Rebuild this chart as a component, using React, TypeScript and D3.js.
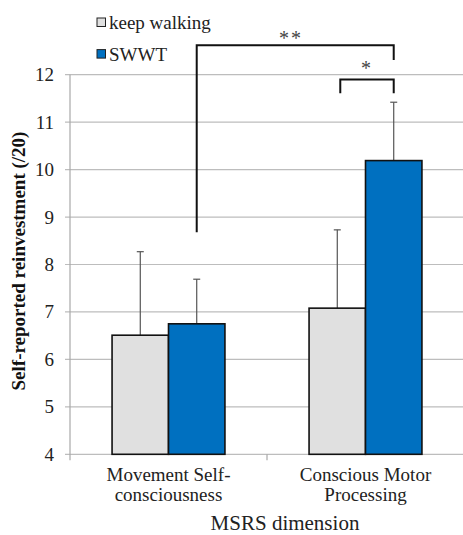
import React from "react";
import * as d3 from "d3";

const categories = ["Movement Self-consciousness", "Conscious Motor Processing"];
const categoryLines = [
  ["Movement Self-", "consciousness"],
  ["Conscious Motor", "Processing"],
];
const seriesNames = ["keep walking", "SWWT"];
const keepWalking = [6.51, 7.08];
const keepWalkingErr = [1.76, 1.65];
const swwt = [6.75, 10.19];
const swwtErr = [0.94, 1.23];
const yTicks = [4, 5, 6, 7, 8, 9, 10, 11, 12];
const colors = ["#e0e0e0", "#0070c0"];

const W = 463;
const H = 535;
const SERIF = "Liberation Serif";

export default function App() {
  const x = d3.scaleBand<string>().domain(categories).range([70, 464]).padding(0);
  const bw = x.bandwidth();
  const inner = d3
    .scaleBand<string>()
    .domain(seriesNames)
    .range([bw * 0.2135, bw * 0.7865])
    .padding(0);
  const y = d3.scaleLinear().domain([4, 12]).range([454.3, 74.7]);

  const series = [
    { name: seriesNames[0], values: keepWalking, errs: keepWalkingErr, color: colors[0] },
    { name: seriesNames[1], values: swwt, errs: swwtErr, color: colors[1] },
  ];

  const barCenter = (ci: number, si: number) =>
    (x(categories[ci]) ?? 0) + (inner(seriesNames[si]) ?? 0) + inner.bandwidth() / 2;

  const b2Left = barCenter(0, 1);
  const b2Right = barCenter(1, 1);
  const b1Left = barCenter(1, 0) + 3;
  const b1Right = barCenter(1, 1);

  return (
    <svg
      width={W}
      height={H}
      style={{ position: "absolute", left: 0, top: 0, background: "#fff" }}
    >
      <rect width={W} height={H} fill="#fff" />
      {yTicks.map((t) => (
        <line
          key={"g" + t}
          x1={65}
          x2={W}
          y1={y(t)}
          y2={y(t)}
          stroke="#bdbdbd"
          strokeWidth={1.2}
        />
      ))}
      <line x1={70} x2={70} y1={y(12)} y2={y(4)} stroke="#a8a8a8" strokeWidth={1.2} />
      {[70, ...categories.map((c) => (x(c) ?? 0) + bw)].map((v, i) => (
        <line key={"ct" + i} x1={v} x2={v} y1={y(4)} y2={y(4) + 6} stroke="#a8a8a8" strokeWidth={1.2} />
      ))}
      {yTicks.map((t) => (
        <text
          key={"yl" + t}
          x={54}
          y={y(t) + 6.5}
          textAnchor="end"
          fontSize={19}
          fill="#222"
          fontFamily={SERIF}
        >
          {t}
        </text>
      ))}
      {series.map((s, si) =>
        s.values.map((v, ci) => {
          const cx = barCenter(ci, si);
          return (
            <g key={"e" + si + ci} stroke="#555" strokeWidth={1.2}>
              <line x1={cx} x2={cx} y1={y(v)} y2={y(v + s.errs[ci])} />
              <line x1={cx - 3.5} x2={cx + 3.5} y1={y(v + s.errs[ci])} y2={y(v + s.errs[ci])} />
            </g>
          );
        })
      )}
      {series.map((s, si) =>
        s.values.map((v, ci) => (
          <rect
            key={"b" + si + ci}
            x={(x(categories[ci]) ?? 0) + (inner(s.name) ?? 0)}
            y={y(v)}
            width={inner.bandwidth()}
            height={y(4) - y(v)}
            fill={s.color}
            stroke="#111"
            strokeWidth={1.6}
          />
        ))
      )}
      <path
        d={`M${b2Left},${y(8.68)} V${y(12.62)} H${b2Right} V${y(12.31)}`}
        fill="none"
        stroke="#111"
        strokeWidth={2}
      />
      <text x={291} y={45} textAnchor="middle" fontSize={20} fill="#444" fontFamily={SERIF} letterSpacing={2}>
        **
      </text>
      <path
        d={`M${b1Left},${y(11.61)} V${y(11.9)} H${b1Right} V${y(11.61)}`}
        fill="none"
        stroke="#111"
        strokeWidth={2}
      />
      <text x={366} y={75} textAnchor="middle" fontSize={20} fill="#444" fontFamily={SERIF}>
        *
      </text>
      {series.map((s, si) => (
        <g key={"lg" + si}>
          <rect
            x={97}
            y={18 + si * 31.6}
            width={8.5}
            height={8.5}
            fill={s.color}
            stroke="#222"
            strokeWidth={1}
          />
          <text x={109} y={28.5 + si * 32.5} fontSize={19} fill="#222" fontFamily={SERIF}>
            {s.name}
          </text>
        </g>
      ))}
      {categories.map((c, ci) => (
        <text
          key={"cl" + ci}
          x={(x(c) ?? 0) + bw / 2}
          y={481}
          textAnchor="middle"
          fontSize={19}
          fill="#222"
          fontFamily={SERIF}
        >
          {categoryLines[ci].map((ln, li) => (
            <tspan key={li} x={(x(c) ?? 0) + bw / 2} dy={li === 0 ? 0 : 20}>
              {ln}
            </tspan>
          ))}
        </text>
      ))}
      <text x={285} y={530} textAnchor="middle" fontSize={21} fill="#222" fontFamily={SERIF}>
        MSRS dimension
      </text>
      <text
        transform={`translate(25,261) rotate(-90)`}
        textAnchor="middle"
        fontSize={19}
        fontWeight="bold"
        fill="#111"
        fontFamily={SERIF}
      >
        Self-reported reinvestment (/20)
      </text>
    </svg>
  );
}
